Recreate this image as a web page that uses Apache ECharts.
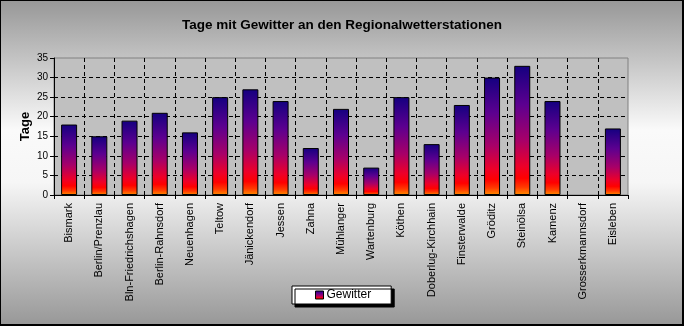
<!DOCTYPE html>
<html>
<head>
<meta charset="utf-8">
<script src="https://cdn.jsdelivr.net/npm/echarts@6/dist/echarts.min.js"></script>
<style>
html,body{margin:0;padding:0;}
#wrap{position:relative;width:684px;height:326px;}
#c{width:684px;height:326px;}
#frame{position:absolute;left:0;top:0;width:684px;height:326px;box-sizing:border-box;border-left:1px solid #000;border-top:1px solid #000;border-right:2px solid #000;border-bottom:2px solid #000;pointer-events:none;}
</style>
</head>
<body>
<div id="wrap"><div id="c"></div><div id="frame"></div></div>
<script>
const categories = ["Bismark","Berlin/Prenzlau","Bln-Friedrichshagen","Berlin-Rahnsdorf","Neuenhagen","Teltow","Jänickendorf","Jessen","Zahna","Mühlanger","Wartenburg","Köthen","Doberlug-Kirchhain","Finsterwalde","Gröditz","Steinölsa","Kamenz","Grosserkmannsdorf","Eisleben"];
const gewitter = [18,15,19,21,16,25,27,24,12,22,7,25,13,23,30,33,24,0,17];
const yTicks = {min:0, max:35, interval:5};
const titleText = "Tage mit Gewitter an den Regionalwetterstationen";
const yName = "Tage";
const seriesName = "Gewitter";

const chart = echarts.init(document.getElementById('c'), null, {renderer:'canvas'});
const barGrad = new echarts.graphic.LinearGradient(0,0,0,1,[
  {offset:0, color:'#140080'},
  {offset:0.3, color:'#5c0090'},
  {offset:0.58, color:'#a80068'},
  {offset:0.78, color:'#ee0028'},
  {offset:0.87, color:'#ff0000'},
  {offset:0.94, color:'#ff3a00'},
  {offset:1, color:'#ff9000'}
]);
const hSplit = [];
for (let i=0;i<8;i++) hSplit.push(i===7?'rgba(0,0,0,0)':'#000');
const vSplit = [];
for (let i=0;i<=categories.length;i++) vSplit.push((i===0||i===categories.length)?'rgba(0,0,0,0)':'#000');
const barData = gewitter.map(v => v === 0 ? {value:v, itemStyle:{borderWidth:0}} : v);

chart.setOption({
  animation:false,
  backgroundColor: new echarts.graphic.LinearGradient(0,0,0,1,[
    {offset:0,color:'#979797'},
    {offset:0.40,color:'#fafafa'},
    {offset:0.56,color:'#f6f6f6'},
    {offset:1,color:'#979797'}
  ]),
  title:{
    text:titleText, left:'center', top:13,
    textStyle:{fontFamily:'Liberation Sans, Arial, sans-serif', fontSize:13.5, fontWeight:'bold', color:'#000'}
  },
  legend:{
    data:[seriesName], left:292, top:286,
    icon:'rect',
    padding:[3,20,3,23],
    itemWidth:8, itemHeight:8,
    backgroundColor:'#fff', borderColor:'#000', borderWidth:1,
    shadowColor:'#000', shadowOffsetX:3, shadowOffsetY:3, shadowBlur:0,
    textStyle:{fontFamily:'Liberation Sans, Arial, sans-serif', fontSize:12, color:'#000', padding:[0,0,0,-2]},
    itemStyle:{borderColor:'#000', borderWidth:1}
  },
  grid:{
    left:54, right:56, top:58, bottom:131,
    show:true, backgroundColor:'#c0c0c0', borderColor:'#808080', borderWidth:1
  },
  xAxis:{
    type:'category', data:categories,
    axisLine:{lineStyle:{color:'#000', width:1}},
    axisTick:{show:true, length:4, lineStyle:{color:'#000'}},
    splitLine:{show:true, lineStyle:{color:vSplit, type:[4,3], width:1}},
    axisLabel:{rotate:90, interval:0, margin:8, fontFamily:'Liberation Sans, Arial, sans-serif', fontSize:11, color:'#000'}
  },
  yAxis:{
    type:'value', min:yTicks.min, max:yTicks.max, interval:yTicks.interval,
    name:yName, nameLocation:'middle', nameGap:22, nameRotate:90, nameMoveOverlap:false,
    nameTextStyle:{fontFamily:'Liberation Sans, Arial, sans-serif', fontSize:13, fontWeight:'bold', color:'#000'},
    axisLine:{show:true, lineStyle:{color:'#000', width:1}},
    axisTick:{show:true, length:4, lineStyle:{color:'#000'}},
    splitLine:{show:true, lineStyle:{color:hSplit, type:[4,3], width:1}},
    axisLabel:{margin:6, fontFamily:'Liberation Sans, Arial, sans-serif', fontSize:10, color:'#000'}
  },
  series:[{
    name:seriesName, type:'bar', data:barData, barWidth:16,
    itemStyle:{color:barGrad, borderColor:'#000', borderWidth:1}
  }]
});
</script>
</body>
</html>
